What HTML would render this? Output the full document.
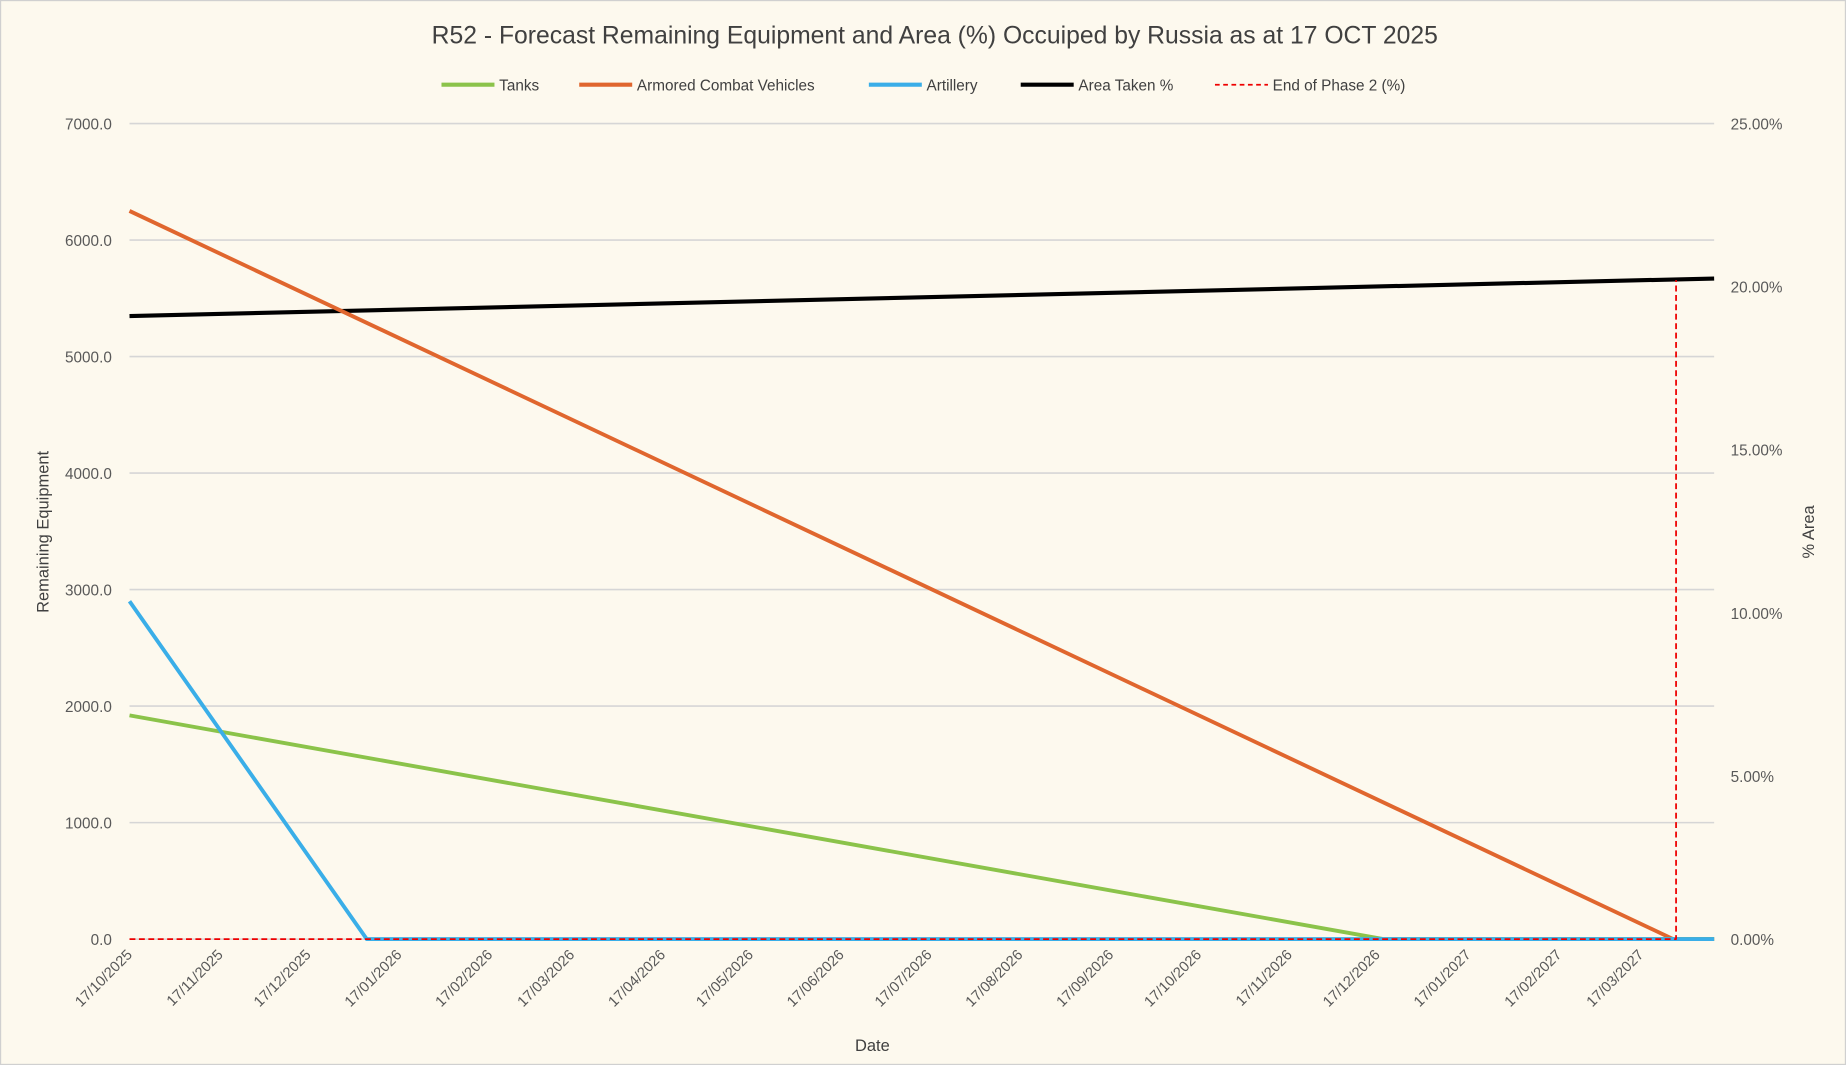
<!DOCTYPE html>
<html><head><meta charset="utf-8"><style>
html,body{margin:0;padding:0;background:#fdf9ee;}
svg{display:block;font-family:"Liberation Sans",sans-serif;}
</style></head><body>
<svg id="chart" width="1846" height="1065" viewBox="0 0 1568 905" preserveAspectRatio="none" xmlns="http://www.w3.org/2000/svg">
<rect x="0.5" y="0.5" width="1567" height="904" fill="#fdf9ee" stroke="#d0d0d0"/>
<text x="794" y="37" text-anchor="middle" font-size="21" fill="#404040">R52 - Forecast Remaining Equipment and Area (%) Occuiped by Russia as at 17 OCT 2025</text>
<g id="legend" font-size="13" fill="#404040">
<g><line x1="375" y1="72" x2="420" y2="72" stroke="#8bc34a" stroke-width="3.5"/><text x="424" y="77">Tanks</text></g>
<g><line x1="492" y1="72" x2="537" y2="72" stroke="#e0662e" stroke-width="3.5"/><text x="541" y="77">Armored Combat Vehicles</text></g>
<g><line x1="738" y1="72" x2="783" y2="72" stroke="#3aaee8" stroke-width="3.5"/><text x="787" y="77">Artillery</text></g>
<g><line x1="867" y1="72" x2="912" y2="72" stroke="#000" stroke-width="3.5"/><text x="916" y="77">Area Taken %</text></g>
<g><line x1="1032" y1="72" x2="1077" y2="72" stroke="#e00" stroke-width="1.5" stroke-dasharray="4,3"/><text x="1081" y="77">End of Phase 2 (%)</text></g>
</g>
<g id="grid"></g><g id="axes"></g><g id="series"></g>
<text x="741" y="893" text-anchor="middle" font-size="14" fill="#404040">Date</text>
<text transform="translate(41,452) rotate(-90)" text-anchor="middle" font-size="14" fill="#404040">Remaining Equipment</text>
<text transform="translate(1541,452) rotate(-90)" text-anchor="middle" font-size="14" fill="#404040">% Area</text>
</svg>
<script>
const leftTicks=[0,1000,2000,3000,4000,5000,6000,7000];
const rightTicks=[0,5,10,15,20,25];
const monthLabels=["17/10/2025","17/11/2025","17/12/2025","17/01/2026","17/02/2026","17/03/2026","17/04/2026","17/05/2026","17/06/2026","17/07/2026","17/08/2026","17/09/2026","17/10/2026","17/11/2026","17/12/2026","17/01/2027","17/02/2027","17/03/2027"];
const monthDays=[0,31,61,92,123,151,182,212,243,273,304,335,365,396,426,457,488,516];
const tanksDays=[0,428,541];
const tanksVals=[1920,0,0];
const acvDays=[0,527,541];
const acvVals=[6250,0,0];
const artDays=[0,81,541];
const artVals=[2900,0,0];
const areaDays=[0,541];
const areaVals=[19.1,20.25];
const phase2Day=528;
const phase2Val=20.2;

const X0=110,X1=1456,Y0=798,Y1=105,DAYS=541;
const xs=d=>X0+(X1-X0)*d/DAYS;
const yl=v=>Y0-(Y0-Y1)*v/7000;
const yr=v=>Y0-(Y0-Y1)*v/25;
const NS="http://www.w3.org/2000/svg";
function mk(tag,attrs,parent){const e=document.createElementNS(NS,tag);for(const k in attrs)e.setAttribute(k,attrs[k]);document.getElementById(parent).appendChild(e);return e;}

leftTicks.forEach(v=>{
 const g=mk('line',{x1:X0,x2:X1,y1:yl(v),y2:yl(v),stroke:'#d6d6d6','stroke-width':1.3},'grid');
 
 
 const t=mk('text',{x:95,y:yl(v)+5,'text-anchor':'end','font-size':13,fill:'#595959'},'axes');
 t.textContent=v.toFixed(1);
 
 
});
rightTicks.forEach(v=>{
 const t=mk('text',{x:1470,y:yr(v)+5,'font-size':13,fill:'#595959'},'axes');
 t.textContent=v.toFixed(2)+'%';
 
 
});
monthLabels.forEach((m,i)=>{
 const x=xs(monthDays[i])+3,y=812;
 const t=mk('text',{transform:`translate(${x},${y}) rotate(-45)`,'text-anchor':'end','font-size':12.5,fill:'#595959'},'axes');
 t.textContent=m;
 
 
});
function line(days,vals,sc,color,w,name,dash){
 const p=mk('polyline',{points:days.map((d,i)=>xs(d)+','+sc(vals[i])).join(' '),fill:'none',stroke:color,'stroke-width':w,'stroke-linejoin':'round'},'series');
 if(dash)p.setAttribute('stroke-dasharray',dash);
 
 
}
line(areaDays,areaVals,yr,'#000',3.5,'area-taken-line');
line(acvDays,acvVals,yl,'#e0662e',3.3,'acv-line');
line(tanksDays,tanksVals,yl,'#8bc34a',3.3,'tanks-line');
line(artDays,artVals,yl,'#3aaee8',3.3,'artillery-line');
line([0,phase2Day,phase2Day],[0,0,phase2Val],yr,'#e00',1.5,'phase2-line','5,3');
</script>
</body></html>
